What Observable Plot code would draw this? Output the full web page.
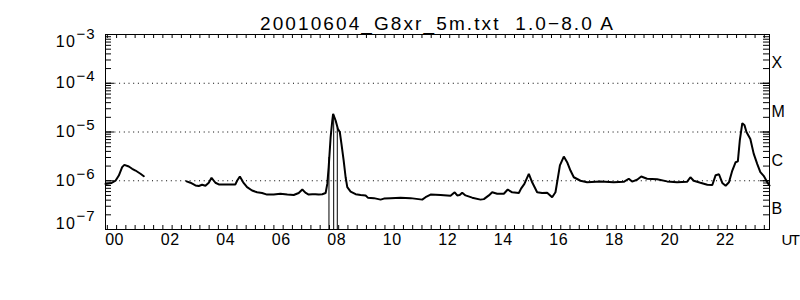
<!DOCTYPE html>
<html>
<head>
<meta charset="utf-8">
<script src="https://cdn.jsdelivr.net/npm/d3@7"></script>
<script src="https://cdn.jsdelivr.net/npm/@observablehq/plot@0.6"></script>
<style>
  html, body { margin: 0; padding: 0; background: #fff; }
</style>
</head>
<body>
<div id="chart"></div>
<script>
// ---------- data ----------
const title = "20010604_G8xr_5m.txt  1.0\u22128.0 A";

// time in UT hours, GOES 8 1.0-8.0 A flux (W/m^2); null = data gap
const hours = [
  -0.40, -0.29, -0.18, -0.04, 0.08, 0.20, 0.28, 0.44, 0.56, 0.68, 0.86, 0.98,
  1.80,
  2.52, 2.66, 2.84, 2.96, 3.08, 3.20, 3.32, 3.42, 3.56, 3.68, 4.28, 4.34, 4.44, 4.56, 4.70,
  4.88, 5.06, 5.24, 5.42, 5.66, 5.90, 6.15, 6.38, 6.56, 6.69, 6.80, 6.92, 7.05, 7.16, 7.28,
  7.41, 7.53, 7.59, 7.64, 7.71, 7.77, 7.80, 7.89, 7.97, 8.04, 8.10, 8.18, 8.25, 8.31, 8.43,
  8.61, 8.79, 8.97, 9.05, 9.27, 9.51, 9.63, 9.87, 10.23, 10.59, 11.01, 11.13, 11.31, 11.67,
  12.03, 12.18, 12.27, 12.36, 12.45, 12.57, 12.81, 13.11, 13.23, 13.41, 13.53, 13.71, 13.95,
  14.09, 14.25, 14.49, 14.57, 14.69, 14.85, 14.97, 15.15, 15.33, 15.51, 15.69, 15.81, 15.87,
  15.97, 16.11, 16.23, 16.35, 16.47, 16.71, 16.95, 17.43, 17.91, 18.27, 18.45, 18.57, 18.75,
  18.90, 19.11, 19.47, 19.83, 20.19, 20.55, 20.67, 20.79, 21.03, 21.28, 21.46, 21.58, 21.70,
  21.82, 21.94, 22.06, 22.18, 22.30, 22.38, 22.45, 22.54, 22.62, 22.69, 22.83, 22.95, 23.08,
  23.19, 23.31, 23.46, 23.52
];
const flux = [
  8.6e-7, 8.8e-7, 9.0e-7, 1.0e-6, 1.28e-6, 1.9e-6, 2.12e-6, 1.96e-6, 1.76e-6, 1.62e-6, 1.39e-6, 1.24e-6,
  null,
  9.7e-7, 9.1e-7, 8.0e-7, 7.8e-7, 8.3e-7, 7.9e-7, 9.1e-7, 1.15e-6, 9.1e-7, 8.4e-7, 8.4e-7, 1.0e-6, 1.22e-6, 9.3e-7, 7.4e-7,
  6.3e-7, 5.8e-7, 5.6e-7, 5.2e-7, 5.2e-7, 5.4e-7, 5.2e-7, 5.1e-7, 5.6e-7, 6.6e-7, 5.7e-7, 5.2e-7, 5.3e-7, 5.3e-7, 5.2e-7,
  5.3e-7, 5.6e-7, 8.6e-7, 1.9e-6, 7.8e-6, 1.72e-5, 2.36e-5, 1.72e-5, 1.16e-5, 1.0e-5, 5.7e-6, 2.6e-6, 1.18e-6, 7.4e-7, 6.0e-7,
  5.3e-7, 5.1e-7, 5.0e-7, 4.5e-7, 4.4e-7, 4.1e-7, 4.3e-7, 4.4e-7, 4.5e-7, 4.4e-7, 4.1e-7, 4.6e-7, 5.2e-7, 5.1e-7,
  4.9e-7, 5.8e-7, 5.0e-7, 5.1e-7, 5.7e-7, 5.0e-7, 4.5e-7, 4.1e-7, 4.2e-7, 5.0e-7, 5.8e-7, 5.4e-7, 5.4e-7,
  6.6e-7, 5.8e-7, 5.6e-7, 6.9e-7, 8.6e-7, 1.39e-6, 9.3e-7, 5.8e-7, 5.6e-7, 5.7e-7, 4.6e-7, 5.8e-7, 9.3e-7,
  2.06e-6, 3.14e-6, 2.4e-6, 1.62e-6, 1.18e-6, 1.0e-6, 9.3e-7, 9.7e-7, 9.3e-7, 9.5e-7, 1.1e-6, 9.6e-7, 1.05e-6,
  1.22e-6, 1.1e-6, 1.07e-6, 9.7e-7, 9.3e-7, 9.5e-7, 1.18e-6, 1.0e-6, 9.1e-7, 8.3e-7, 8.2e-7, 1.3e-6, 1.36e-6,
  9.0e-7, 7.9e-7, 9.3e-7, 1.62e-6, 2.4e-6, 2.5e-6, 6.7e-6, 1.52e-5, 1.38e-5, 1.0e-5, 7.2e-6, 3.6e-6, 2.2e-6,
  1.5e-6, 1.26e-6, 8.9e-7, 8.0e-7
];

// thin drop-out lines during the 08 UT flare
const dropoutHours = [7.65, 7.82, 7.95];
const dropoutTops  = [3.0e-6, 2.2e-5, 1.2e-5];

// axes
const xDomain = [-0.40, 23.52];
const xTickHours  = [0, 2, 4, 6, 8, 10, 12, 14, 16, 18, 20, 22];
const xTickLabels = ["00", "02", "04", "06", "08", "10", "12", "14", "16", "18", "20", "22"];
const xUnitLabel = "UT";
const yDecades   = [1e-7, 1e-6, 1e-5, 1e-4, 1e-3];
const yExponents = ["\u22127", "\u22126", "\u22125", "\u22124", "\u22123"];
const gridDecades = [1e-6, 1e-5, 1e-4];
const classNames = ["B", "C", "M", "X"];
const classLower = [1e-7, 1e-6, 1e-5, 1e-4];

// ---------- layout ----------
const W = 800, H = 300;
const mL = 105, mR = 31, mT = 34, mB = 71;
const fw = W - mL - mR, fh = H - mT - mB;
const font = "'Liberation Sans', Arial, Helvetica, sans-serif";

const series = hours.map((h, i) => ({h, f: flux[i]}));
const dropouts = dropoutHours.map((h, i) => ({h, top: dropoutTops[i]}));
const minorX = d3.range(-3, 75).map(i => i / 3).filter(h => h > xDomain[0] + 0.05 && h < xDomain[1] - 0.05);
const minorY = yDecades.slice(0, -1).flatMap(d => d3.range(1, 10).map(k => k * d));
const yTicks = yDecades.map((d, i) => ({d, e: yExponents[i]}));
const yMid = yTicks.filter((t, i) => i > 0 && i < yTicks.length - 1);
const yTop = [yTicks[yTicks.length - 1]];
const yBot = [yTicks[0]];
const classes = classNames.map((c, i) => ({c, y: Math.sqrt(classLower[i] * classLower[i] * 10)}));
const xTicks = xTickHours.map((h, i) => ({h, t: xTickLabels[i]}));

const txt = {fill: "black", fontSize: 16};

const chart = Plot.plot({
  width: W, height: H,
  marginLeft: mL, marginRight: mR, marginTop: mT, marginBottom: mB,
  style: {fontFamily: font, background: "white", color: "black"},
  x: {type: "linear", domain: xDomain, axis: null},
  y: {type: "log", domain: [1e-7, 1e-3], axis: null},
  marks: [
    Plot.ruleY(gridDecades, {stroke: "black", strokeWidth: 1, strokeDasharray: "1,3.7"}),
    Plot.ruleX(dropouts, {x: "h", y1: 1e-7, y2: "top", stroke: "black", strokeWidth: 1}),
    Plot.line(series, {x: "h", y: "f", stroke: "black", strokeWidth: 2, strokeLinejoin: "miter"}),
    Plot.frame({stroke: "black", strokeWidth: 1}),
    // ticks on all four sides, pointing inward
    Plot.ruleX(minorX, {insetTop: fh - 4, stroke: "black"}),
    Plot.ruleX(minorX, {insetBottom: fh - 4, stroke: "black"}),
    Plot.ruleY(minorY, {insetRight: fw - 6, stroke: "black"}),
    Plot.ruleY(minorY, {insetLeft: fw - 6, stroke: "black"}),
    Plot.ruleY(yDecades, {insetRight: fw - 9, stroke: "black"}),
    Plot.ruleY(yDecades, {insetLeft: fw - 9, stroke: "black"}),
    // x tick labels (text group 0) and unit (group 1)
    Plot.text(xTicks, {x: "h", text: "t", frameAnchor: "bottom", dx: -2, dy: 15, ...txt}),
    Plot.text([xUnitLabel], {frameAnchor: "bottom-right", textAnchor: "start", dx: 12, dy: 15, fill: "black", fontSize: 15}),
    // y tick labels: 10 with superscript exponent (groups 2-7)
    Plot.text(yMid, {y: "d", text: () => "10", frameAnchor: "left", textAnchor: "end", dx: -29, ...txt}),
    Plot.text(yMid, {y: "d", text: "e", frameAnchor: "left", textAnchor: "start", dx: -29, dy: -7, ...txt, fontSize: 15}),
    Plot.text(yTop, {y: "d", text: () => "10", frameAnchor: "left", textAnchor: "end", dx: -29, dy: 7, ...txt}),
    Plot.text(yTop, {y: "d", text: "e", frameAnchor: "left", textAnchor: "start", dx: -29, dy: -0.5, ...txt, fontSize: 15}),
    Plot.text(yBot, {y: "d", text: () => "10", frameAnchor: "left", textAnchor: "end", dx: -29, dy: -6, ...txt}),
    Plot.text(yBot, {y: "d", text: "e", frameAnchor: "left", textAnchor: "start", dx: -29, dy: -13, ...txt, fontSize: 15}),
    // GOES class letters on the right (group 8)
    Plot.text(classes, {y: "y", text: "c", frameAnchor: "right", textAnchor: "start", dx: 2, dy: 4, ...txt}),
    // title (group 9)
    Plot.text([title], {frameAnchor: "top", dy: -18.5, fill: "black", fontSize: 19})
  ]
});
document.getElementById("chart").appendChild(chart);

// per-group letter spacing to mimic the wide vector font of the original
const spacing = [0.5, -1.5, 1.5, 1, 1.5, 1, 1.5, 1, 0, 2.1];
d3.select(chart).selectAll('g[aria-label="text"]').each(function (d, i) {
  if (spacing[i] != null) this.style.letterSpacing = spacing[i] + "px";
});
</script>
</body>
</html>
